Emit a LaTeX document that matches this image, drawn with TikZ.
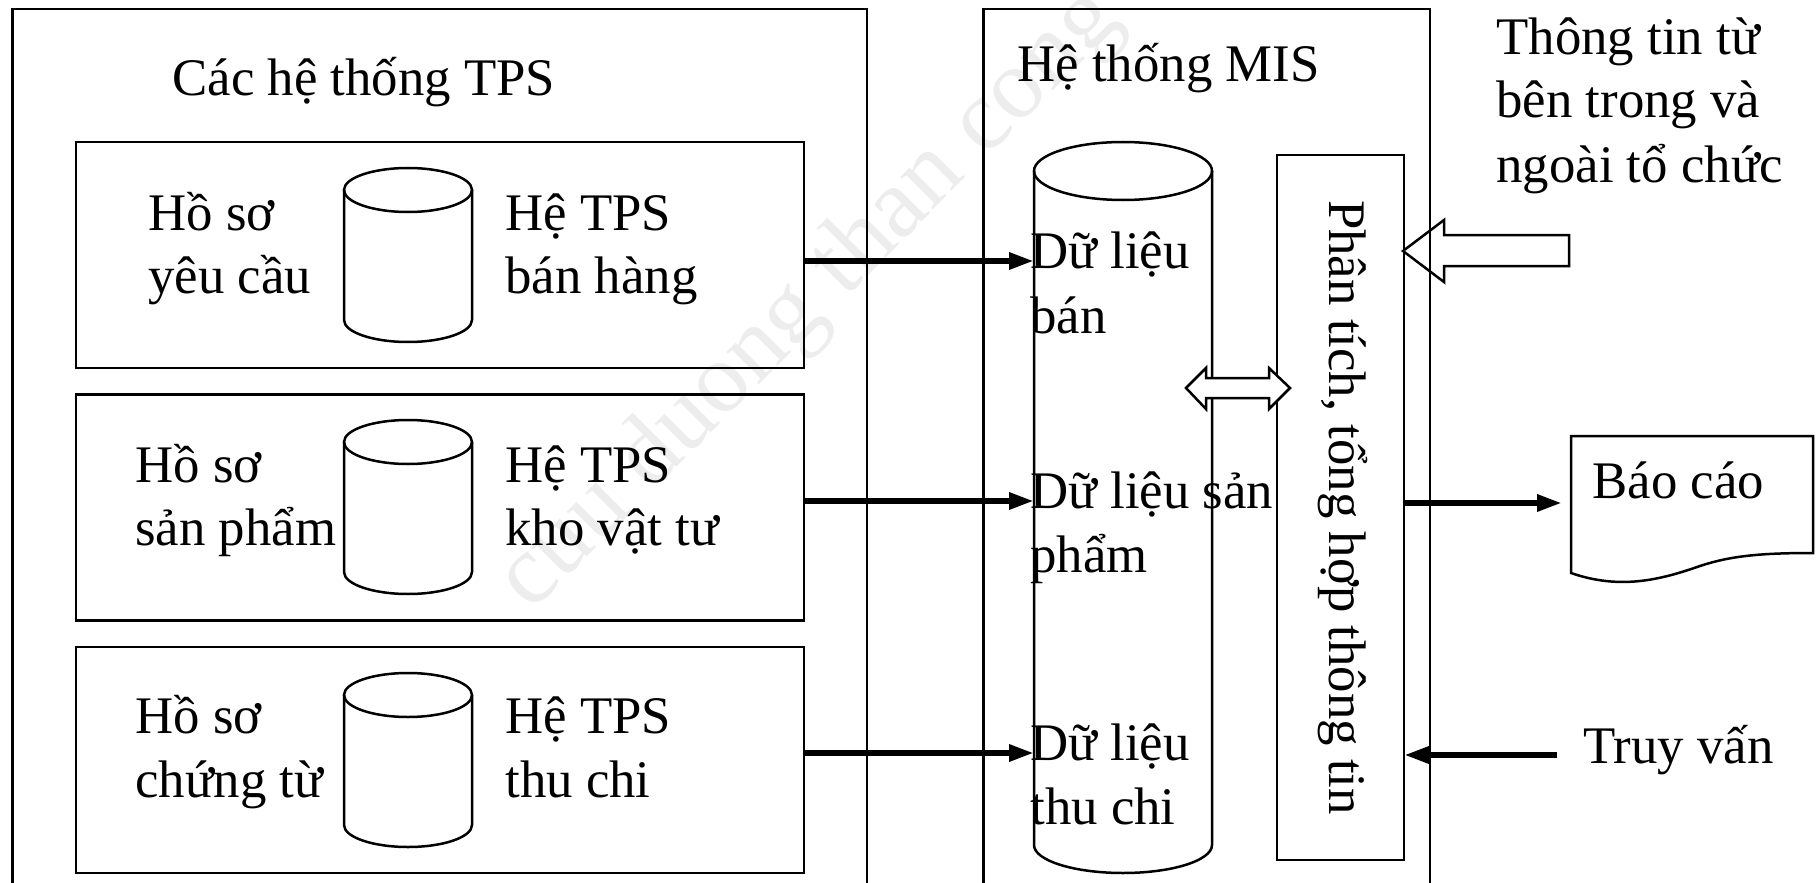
\documentclass[tikz,border=0pt]{standalone}
\usepackage{fontspec}
\setmainfont{Liberation Serif}
\usetikzlibrary{arrows.meta,calc}
\begin{document}
\begin{tikzpicture}[x=0.5pt, y=-0.5pt,
  box/.style={draw, line width=1.25pt, inner sep=0pt, outer sep=0pt, anchor=north west},
  ghost/.style={inner sep=0pt, outer sep=0pt, anchor=north west},
  txt/.style={inner sep=0pt, anchor=base west, font=\fontsize{26.4}{32}\selectfont},
  arr/.style={line width=3pt, -{Triangle[length=12.5pt, width=8pt]}},
  lin/.style={line width=1.25pt, line join=miter},
  pics/smallcyl/.style={code={
    \draw[lin] (0,0) ellipse[x radius=64, y radius=22];
    \draw[lin] (-64,0) -- (-64,130) arc[start angle=180, end angle=0, x radius=64, y radius=22] -- (64,0);
  }}]
\useasboundingbox (0,0) rectangle (1816,883);
\clip (0,0) rectangle (1816,883);

% watermark
\node[rotate=45, text=black!7, font=\fontsize{50}{60}\selectfont] (wm) at (810,300) {cuu duong than cong};

% outer frames
\node[box, minimum width=427.2pt, minimum height=480pt] (tps) at (12.6,9) {};
\node[box, minimum width=223.25pt, minimum height=480pt] (mis) at (983.5,9) {};

% TPS boxes
\node[box, minimum width=364pt, minimum height=113pt] (b1) at (76,142) {};
\node[box, minimum width=364pt, minimum height=113pt] (b2) at (76,394.5) {};
\node[box, minimum width=364pt, minimum height=113pt] (b3) at (76,647) {};

\pic at (408,190) {smallcyl};
\pic at (408,442) {smallcyl};
\pic at (408,695) {smallcyl};

% big database cylinder
\node[ghost, minimum width=89pt, minimum height=365.5pt] (dbig) at (1034,142) {};
\draw[lin] (1123,171) ellipse[x radius=89, y radius=29];
\draw[lin] (1034,171) -- (1034,845) arc[start angle=180, end angle=0, x radius=89, y radius=28] -- (1212,171);

% analysis box
\node[box, minimum width=63.5pt, minimum height=352.5pt] (ana) at (1277,155) {};
\node[txt, rotate=-90, anchor=base] (anat) at (1329,507.5) {Phân tích, tổng hợp thông tin};

% report document
\node[ghost, minimum width=121pt, minimum height=68.5pt] (rep) at (1571,436) {};
\draw[lin] (1571,436) -- (1813,436) -- (1813,553)
  .. controls (1760,553) and (1730,556) .. (1700,566)
  .. controls (1660,580) and (1620,590) .. (1571,573) -- cycle;

% texts
\node[txt] (t0) at (172,96) {Các hệ thống TPS};
\node[txt] (t1a) at (148,230) {Hồ sơ};
\node[txt] (t1b) at (148,293) {yêu cầu};
\node[txt] (t1c) at (505,230) {Hệ TPS};
\node[txt] (t1d) at (505,293) {bán hàng};
\node[txt] (t2a) at (135,482) {Hồ sơ};
\node[txt] (t2b) at (135,545) {sản phẩm};
\node[txt] (t2c) at (505,482) {Hệ TPS};
\node[txt] (t2d) at (505,545) {kho vật tư};
\node[txt] (t3a) at (135,733) {Hồ sơ};
\node[txt] (t3b) at (135,797) {chứng từ};
\node[txt] (t3c) at (505,733) {Hệ TPS};
\node[txt] (t3d) at (505,797) {thu chi};
\node[txt] (m0) at (1017,82) {Hệ thống MIS};
\node[txt] (d1a) at (1030,268) {Dữ liệu};
\node[txt] (d1b) at (1030,333) {bán};
\node[txt] (d2a) at (1030,508) {Dữ liệu sản};
\node[txt] (d2b) at (1030,572) {phẩm};
\node[txt] (d3a) at (1030,760) {Dữ liệu};
\node[txt] (d3b) at (1030,824) {thu chi};
\node[txt] (e1) at (1496,55) {Thông tin từ};
\node[txt] (e2) at (1496,118) {bên trong và};
\node[txt] (e3) at (1496,183) {ngoài tổ chức};
\node[txt] (rept) at (1592,498) {Báo cáo};
\node[txt] (qry) at (1583,763) {Truy vấn};

% connectors
\coordinate (a1) at ([yshift=-3pt]b1.east);
\coordinate (a2) at ([yshift=3.25pt]b2.east);
\coordinate (a3) at ([yshift=3.5pt]b3.east);
\draw[arr] (a1) -- (a1 -| dbig.west);
\draw[arr] (a2) -- (a2 -| dbig.west);
\draw[arr] (a3) -- (a3 -| dbig.west);

\coordinate (o1) at ([yshift=2.25pt]ana.east);
\draw[arr] (o1) -- ($(o1 -| rep.west)+(-9,0)$);

\coordinate (q0) at (1557,755);
\draw[arr] (q0) -- (q0 -| ana.east);

% hollow arrows
\draw[lin] (1403,251) -- (1444,220) -- (1444,235) -- (1569,235) -- (1569,266) -- (1444,266) -- (1444,282) -- cycle;
\draw[lin, fill=white] (1186,388) -- (1206,368) -- (1206,378) -- (1269,378) -- (1269,368) -- (1290,388)
  -- (1269,409) -- (1269,398) -- (1206,398) -- (1206,409) -- cycle;
\end{tikzpicture}
\end{document}
